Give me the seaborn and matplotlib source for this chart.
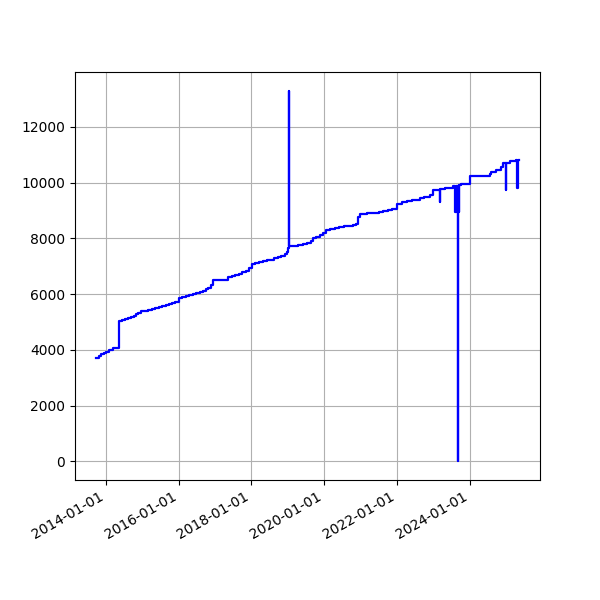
import pandas as pd
import numpy as np
import matplotlib
matplotlib.use("Agg")
import matplotlib.pyplot as plt
import matplotlib.dates as mdates
import seaborn as sns

# values (date, value)
dates = [
    "2013-09-25", "2013-10-20", "2013-11-10", "2013-12-10", "2014-01-01",
    "2014-02-05", "2014-03-10", "2014-05-15", "2014-06-10", "2014-07-10",
    "2014-08-10", "2014-09-10", "2014-10-10", "2014-11-01", "2014-11-17",
    "2014-12-20", "2015-01-25", "2015-03-01", "2015-04-05", "2015-05-10",
    "2015-06-15", "2015-07-20", "2015-08-25", "2015-09-25", "2015-10-25",
    "2015-11-25", "2016-01-01", "2016-02-05", "2016-03-10", "2016-04-15",
    "2016-05-20", "2016-06-25", "2016-07-30", "2016-09-01", "2016-10-01",
    "2016-10-19", "2016-11-20", "2016-12-12", "2017-05-08", "2017-06-15",
    "2017-07-20", "2017-08-25", "2017-09-30", "2017-11-05", "2017-12-10",
    "2018-01-05", "2018-02-10", "2018-03-20", "2018-04-25", "2018-06-01",
    "2018-07-10", "2018-08-15", "2018-09-20", "2018-10-25", "2018-12-01",
    "2018-12-20", "2019-01-01", "2019-01-12", "2019-01-14", "2019-03-01",
    "2019-04-15", "2019-06-01", "2019-07-15", "2019-08-20", "2019-09-08",
    "2019-10-15", "2019-11-20", "2019-12-20", "2020-01-15", "2020-03-01",
    "2020-04-15", "2020-06-01", "2020-07-15", "2020-09-01", "2020-10-15",
    "2020-11-20", "2020-12-06", "2020-12-24", "2021-03-01", "2021-05-01",
    "2021-07-01", "2021-08-15", "2021-10-01", "2021-11-15", "2022-01-01",
    "2022-02-15", "2022-04-15", "2022-06-01", "2022-07-15", "2022-08-18",
    "2022-10-01", "2022-11-24", "2022-12-28", "2023-03-05", "2023-03-07",
    "2023-05-01", "2023-07-15", "2023-08-10", "2023-08-13", "2023-08-16",
    "2023-08-19", "2023-08-22", "2023-08-25", "2023-08-28", "2023-08-31",
    "2023-09-03", "2023-09-06", "2023-09-08", "2023-09-10", "2023-09-12",
    "2023-09-14", "2023-09-16", "2023-10-01", "2024-01-01", "2024-07-20",
    "2024-08-06", "2024-09-24", "2024-11-12", "2024-11-30", "2024-12-27",
    "2024-12-30", "2025-02-13", "2025-04-13", "2025-04-24", "2025-04-26",
    "2025-05-08",
]
values = [
    3710, 3770, 3850, 3900, 3930,
    4000, 4060, 5020, 5060, 5100,
    5140, 5180, 5230, 5280, 5340,
    5380, 5410, 5440, 5470, 5500,
    5530, 5560, 5600, 5640, 5670,
    5700, 5860, 5900, 5940, 5980,
    6010, 6040, 6080, 6120, 6170,
    6230, 6320, 6500, 6600, 6640,
    6680, 6720, 6780, 6840, 6950,
    7080, 7120, 7150, 7180, 7210,
    7240, 7280, 7320, 7360, 7440,
    7520, 7660, 13300, 7720, 7740,
    7770, 7810, 7850, 7900, 8000,
    8060, 8120, 8200, 8290, 8330,
    8360, 8400, 8430, 8460, 8490,
    8530, 8780, 8870, 8900, 8920,
    8950, 8980, 9020, 9070, 9230,
    9300, 9330, 9360, 9390, 9430,
    9500, 9550, 9740, 9310, 9760,
    9800, 9860, 8950, 9880, 8960,
    9880, 8940, 9890, 8950, 9890,
    8960, 9880, 0, 9890, 8950,
    9900, 9900, 9950, 10220, 10310,
    10390, 10460, 10550, 10700, 9740,
    10700, 10770, 10820, 9790, 10820,
    10820,
]

df = pd.DataFrame({"date": pd.to_datetime(dates), "value": values})

fig, ax = plt.subplots(figsize=(6, 6), dpi=100)
sns.lineplot(data=df, x="date", y="value", drawstyle="steps-post",
             color="blue", linewidth=1.6, ax=ax)
ax.grid(True)
ax.set_xlabel("")
ax.set_ylabel("")
ax.xaxis.set_major_locator(mdates.YearLocator(2))
ax.xaxis.set_major_formatter(mdates.DateFormatter("%Y-%m-%d"))
fig.autofmt_xdate()

fig.savefig("out.png")
